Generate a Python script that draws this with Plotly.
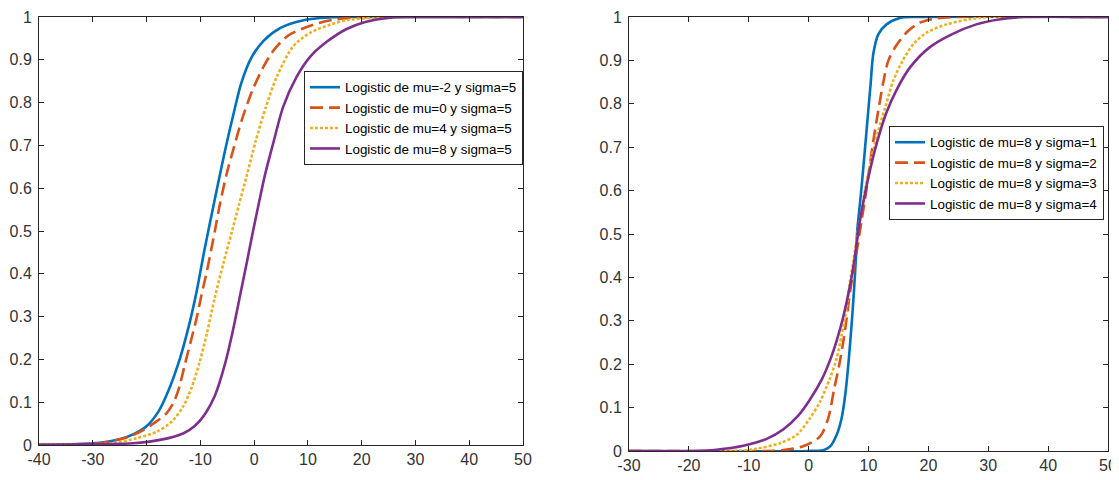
import plotly.graph_objects as go

# ---------------- Left panel (sigma = 5, varying mu) ----------------
left_names = ["Logistic de mu=-2 y sigma=5", "Logistic de mu=0 y sigma=5",
              "Logistic de mu=4 y sigma=5", "Logistic de mu=8 y sigma=5"]

l_blue_x = [-40, -33, -28.7, -24.9, -22.5, -20.0, -17.8, -16.0, -13.8, -12.1, -10.7, -9.4, -8.2,
            -6.8, -5.2, -3.8, -2.4, -0.5, 1.8, 5.0, 9.0, 14, 20, 50]
l_blue_y = [0.001, 0.002, 0.005, 0.014, 0.025, 0.044, 0.078, 0.125, 0.202, 0.28, 0.358, 0.445, 0.52,
            0.605, 0.7, 0.775, 0.845, 0.905, 0.945, 0.975, 0.992, 0.999, 1.0, 1.0]

l_orange_x = [-40, -30, -26.8, -23.4, -20.6, -18.4, -16.3, -14.9, -13.9, -12.9, -11.8, -10.7, -9.8,
              -8.8, -8.0, -7.3, -6.4, -5.1, -3.9, -2.3, -0.3, 1.8, 3.8, 6.5, 11.0, 14.5, 18, 22, 50]
l_orange_y = [0.0, 0.003, 0.008, 0.019, 0.035, 0.053, 0.074, 0.101, 0.136, 0.187, 0.241, 0.296, 0.350,
              0.405, 0.455, 0.5, 0.56, 0.634, 0.689, 0.759, 0.829, 0.885, 0.925, 0.958, 0.982, 0.993,
              0.998, 1.0, 1.0]

l_yellow_x = [-40, -30, -26.2, -21.8, -18.1, -15.3, -13.2, -11.6, -10.1, -8.8, -7.3, -5.6, -4.1, -2.8,
              -1.4, 0.3, 2.2, 4.2, 7.3, 10.4, 14.1, 17.5, 22, 27, 50]
l_yellow_y = [0.0, 0.002, 0.004, 0.016, 0.031, 0.055, 0.09, 0.135, 0.195, 0.26, 0.345, 0.43, 0.5,
              0.562, 0.628, 0.71, 0.79, 0.86, 0.932, 0.963, 0.982, 0.993, 0.998, 1.0, 1.0]

l_purple_x = [-40, -28.7, -22.5, -17.5, -13.2, -11.0, -9.0, -7.3, -5.4, -3.9, -2.6, -1.3, -0.2, 0.8,
              2.0, 3.55, 5.4, 7.9, 10.4, 13.5, 17.2, 20.5, 25, 30, 50]
l_purple_y = [0.0, 0.002, 0.004, 0.012, 0.027, 0.045, 0.075, 0.115, 0.19, 0.27, 0.35, 0.43, 0.5,
              0.56, 0.63, 0.705, 0.790, 0.860, 0.907, 0.942, 0.972, 0.988, 0.998, 1.0, 1.0]

# ---------------- Right panel (mu = 8, varying sigma) ----------------
right_names = ["Logistic de mu=8 y sigma=1", "Logistic de mu=8 y sigma=2",
               "Logistic de mu=8 y sigma=3", "Logistic de mu=8 y sigma=4"]

r_blue_x = [-30, 0, 2.44, 3.55, 4.67, 5.5, 6.17, 6.72, 7.17, 7.56, 7.89, 8.12, 8.68, 9.29, 9.96,
            10.35, 10.79, 11.63, 13.02, 15.25, 18.6, 50]
r_blue_y = [0, 0.0, 0.002, 0.010, 0.037, 0.075, 0.136, 0.213, 0.290, 0.366, 0.443, 0.508, 0.585,
            0.677, 0.784, 0.845, 0.914, 0.960, 0.983, 0.998, 1.0, 1.0]

r_orange_x = [-30, -8.1, -4.24, -0.9, 1.88, 3.27, 4.28, 5.11, 5.78, 6.34, 7.0, 7.73, 8.85, 9.68,
              10.24, 10.9, 11.63, 12.46, 13.3, 14.58, 16.47, 18.58, 21.4, 25, 50]
r_orange_y = [0, 0.0, 0.002, 0.011, 0.033, 0.075, 0.144, 0.198, 0.251, 0.305, 0.374, 0.435, 0.531,
              0.604, 0.661, 0.723, 0.784, 0.849, 0.899, 0.933, 0.966, 0.987, 0.997, 1.0, 1.0]

r_yellow_x = [-30, -12, -8.69, -4.79, -2.01, 0.21, 1.88, 3.55, 4.67, 5.5, 6.33, 6.89, 7.45, 8.0,
              8.46, 9.40, 10.52, 11.63, 12.85, 14.13, 15.69, 17.47, 19.7, 23.04, 26.93, 30, 50]
r_yellow_y = [0, 0.0, 0.005, 0.018, 0.037, 0.075, 0.113, 0.167, 0.213, 0.267, 0.328, 0.389, 0.435,
              0.489, 0.523, 0.600, 0.677, 0.738, 0.795, 0.853, 0.899, 0.937, 0.964, 0.983, 0.995,
              1.0, 1.0]

r_purple_x = [-30, -20, -15.4, -10.9, -7.0, -4.2, -1.7, 0.2, 2.2, 3.6, 4.7, 5.8, 6.9, 7.7, 8.45,
              9.3, 10.3, 11.5, 13.0, 14.8, 17.0, 20.2, 23.9, 28, 32, 36, 50]
r_purple_y = [0, 0.0, 0.003, 0.012, 0.028, 0.05, 0.082, 0.118, 0.165, 0.21, 0.255, 0.31, 0.38,
              0.445, 0.52, 0.585, 0.65, 0.715, 0.78, 0.835, 0.885, 0.93, 0.96, 0.983, 0.995,
              1.0, 1.0]

x_ticks_left = [-40, -30, -20, -10, 0, 10, 20, 30, 40, 50]
x_text_left = ["-40", "-30", "-20", "-10", "0", "10", "20", "30", "40", "50"]
x_ticks_right = [-30, -20, -10, 0, 10, 20, 30, 40, 50]
x_text_right = ["-30", "-20", "-10", "0", "10", "20", "30", "40", "50"]
y_ticks = [0, 0.1, 0.2, 0.3, 0.4, 0.5, 0.6, 0.7, 0.8, 0.9, 1]
y_tick_text = ["0", "0.1", "0.2", "0.3", "0.4", "0.5", "0.6", "0.7", "0.8", "0.9", "1"]

colors = ["#0072BD", "#D95319", "#EDB120", "#7E2F8E"]
dashes = ["solid", "13px,6px", "3px,2px", "solid"]
LW = 2.6

# The page body has an 8px margin, so the figure is sized/positioned to compensate.
OFF = 8
W, H = 1119 - OFF, 480 - OFF


def px_x(p):
    return (p - OFF) / W


def px_y(p):
    return 1 - (p - OFF) / H


fig = go.Figure()

left_data = [(l_blue_x, l_blue_y), (l_orange_x, l_orange_y),
             (l_yellow_x, l_yellow_y), (l_purple_x, l_purple_y)]
right_data = [(r_blue_x, r_blue_y), (r_orange_x, r_orange_y),
              (r_yellow_x, r_yellow_y), (r_purple_x, r_purple_y)]

for i, (xs, ys) in enumerate(left_data):
    fig.add_trace(go.Scatter(x=xs, y=ys, mode="lines", name=left_names[i],
                             line=dict(color=colors[i], width=LW, dash=dashes[i],
                                       shape="spline", smoothing=0.8),
                             xaxis="x", yaxis="y", legend="legend"))
for i, (xs, ys) in enumerate(right_data):
    fig.add_trace(go.Scatter(x=xs, y=ys, mode="lines", name=right_names[i],
                             line=dict(color=colors[i], width=LW, dash=dashes[i],
                                       shape="spline", smoothing=0.8),
                             xaxis="x2", yaxis="y2", legend="legend2"))

axis_common = dict(showline=True, linecolor="#262626", linewidth=1, mirror="ticks",
                   ticks="inside", ticklen=5, tickcolor="#262626", showgrid=False,
                   zeroline=False, automargin=False,
                   tickfont=dict(family="Liberation Sans, Arial", size=16, color="#333333"))

legend_font = dict(family="Liberation Sans, Arial", size=13.4, color="#000000")

fig.update_layout(
    width=W, height=H,
    margin=dict(l=0, r=0, t=0, b=0, autoexpand=False),
    paper_bgcolor="white", plot_bgcolor="white",
    showlegend=True,
    xaxis=dict(domain=[px_x(39), px_x(523)], range=[-40, 50], tickvals=x_ticks_left,
               ticktext=x_text_left, anchor="y", ticklabelstandoff=0, **axis_common),
    yaxis=dict(domain=[px_y(445), px_y(17)], range=[0, 1], tickvals=y_ticks,
               ticktext=y_tick_text, anchor="x", ticklabelstandoff=3, **axis_common),
    xaxis2=dict(domain=[px_x(629), px_x(1108)], range=[-30, 50], tickvals=x_ticks_right,
                ticktext=x_text_right, anchor="y2", ticklabelstandoff=0, **axis_common),
    yaxis2=dict(domain=[px_y(451), px_y(17)], range=[0, 1], tickvals=y_ticks,
                ticktext=y_tick_text, anchor="x2", ticklabelstandoff=3, **axis_common),
    legend=dict(x=px_x(304), y=px_y(71), xanchor="left", yanchor="top",
                bgcolor="white", bordercolor="#262626", borderwidth=1,
                font=legend_font, tracegroupgap=0, itemwidth=30),
    legend2=dict(x=px_x(889), y=px_y(126), xanchor="left", yanchor="top",
                 bgcolor="white", bordercolor="#262626", borderwidth=1,
                 font=legend_font, tracegroupgap=0, itemwidth=30),
)

fig.write_html("out.html")
